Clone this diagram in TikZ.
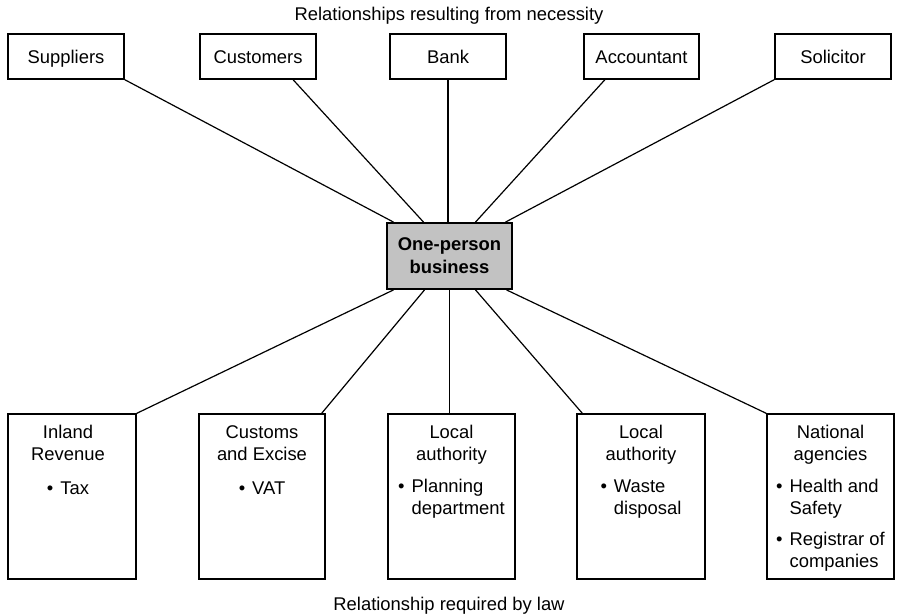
\documentclass[tikz,border=0pt]{standalone}
\usepackage{fontspec}
\setmainfont{Liberation Sans}
\usetikzlibrary{calc}
\definecolor{boxgray}{HTML}{C2C2C2}
\newcommand{\bl}[1]{\begin{tabular}[t]{@{}l@{\hspace{3.5pt}}l@{}}#1\end{tabular}}
\begin{document}
\begin{tikzpicture}[x=0.5pt,y=-0.5pt, font=\fontsize{9.2}{10.85}\selectfont,
 box/.style={draw, line width=0.6pt, inner sep=0pt},
 topbox/.style={box, minimum height=22.5pt, text height=6.6pt, text depth=0pt},
 lawbox/.style={box, minimum height=82.5pt},
 link/.style={line width=0.6pt},
 btext/.style={anchor=base, inner sep=0pt}]
\useasboundingbox (0,0) rectangle (898,615);
\node[topbox, minimum width=58pt] (sup) at (66,56.5) {Suppliers};
\node[topbox, minimum width=58pt] (cus) at (258,56.5) {Customers};
\node[topbox, minimum width=58pt] (bank) at (448,56.5) {Bank};
\node[topbox, minimum width=57.5pt] (acc) at (641.5,56.5) {Accountant};
\node[topbox, minimum width=58pt] (sol) at (833,56.5) {Solicitor};
\node[draw, fill=boxgray, line width=0.9pt, minimum width=62.5pt, minimum height=33pt, align=center, font=\bfseries\fontsize{9.2}{11.5}\selectfont] (biz) at (449.5,256) {One-person\\business};
\node[lawbox, minimum width=64pt] (ir) at (72,496.5) {};
\node[lawbox, minimum width=63pt] (ce) at (262,496.5) {};
\node[lawbox, minimum width=63.5pt] (la1) at (451.5,496.5) {};
\node[lawbox, minimum width=64pt] (la2) at (641,496.5) {};
\node[lawbox, minimum width=63.5pt] (na) at (830.5,496.5) {};
\node[btext] (irt) at ([xshift=-2pt,yshift=-12.75pt]ir.north) {\begin{tabular}[t]{@{}c@{}}Inland\\Revenue\\[6pt]\bl{\textbullet & Tax}\end{tabular}};
\node[btext] (cet) at ([yshift=-12.75pt]ce.north) {\begin{tabular}[t]{@{}c@{}}Customs\\and Excise\\[6pt]\bl{\textbullet & VAT}\end{tabular}};
\node[btext] (la1t) at ([yshift=-12.75pt]la1.north) {\begin{tabular}[t]{@{}c@{}}Local\\authority\\[5.2pt]\bl{\textbullet & Planning\\ & department}\end{tabular}};
\node[btext] (la2t) at ([yshift=-12.75pt]la2.north) {\begin{tabular}[t]{@{}c@{}}Local\\authority\\[5.2pt]\bl{\textbullet & Waste\\ & disposal}\end{tabular}};
\node[btext] (nat) at ([yshift=-12.75pt]na.north) {\begin{tabular}[t]{@{}c@{}}National\\agencies\\[5.2pt]\bl{\textbullet & Health and\\ & Safety\\[4.8pt] \textbullet & Registrar of\\ & companies}\end{tabular}};
\draw[link] (sup.south east) -- ([xshift=-28pt]biz.north);
\draw[link] ([xshift=17.5pt]cus.south) -- ([xshift=-13pt]biz.north);
\draw[link] (bank.south) -- (bank.south |- biz.north);
\draw[link] ([xshift=-18.25pt]acc.south) -- ([xshift=13pt]biz.north);
\draw[link] (sol.south west) -- ([xshift=28pt]biz.north);
\draw[link] ([xshift=-28pt]biz.south) -- (ir.north east);
\draw[link] ([xshift=-12.5pt]biz.south) -- ([xshift=-2pt]ce.north east);
\draw[link] (biz.south) -- (biz.south |- la1.north);
\draw[link] ([xshift=13pt]biz.south) -- ([xshift=3pt]la2.north west);
\draw[link] ([xshift=28.5pt]biz.south) -- (na.north west);
\node (toplbl) at (449,16) {Relationships resulting from necessity};
\node (botlbl) at (449,606) {Relationship required by law};
\end{tikzpicture}
\end{document}
